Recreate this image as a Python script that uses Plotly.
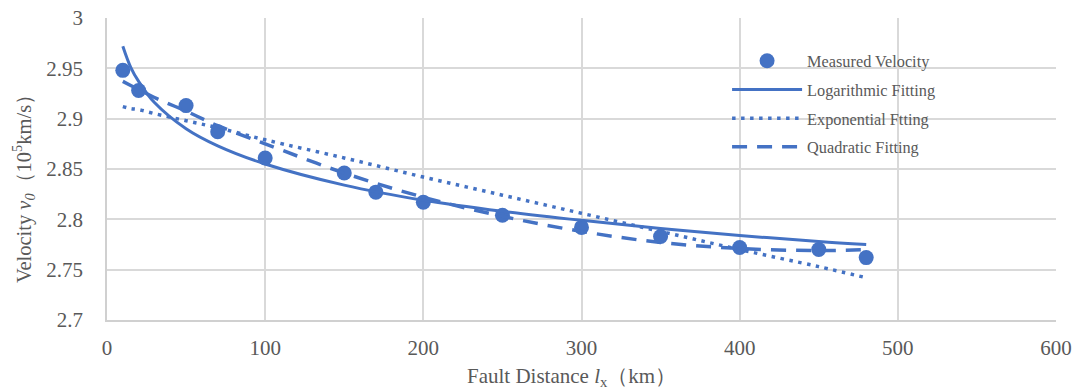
import plotly.graph_objects as go

BLUE = "#4472C4"
FONT = "Liberation Serif, Times New Roman, serif"
GRAY = "#595959"

# Measured data
dist = [10, 20, 50, 70, 100, 150, 170, 200, 250, 300, 350, 400, 450, 480]
vel = [2.948, 2.928, 2.913, 2.887, 2.861, 2.846, 2.827, 2.817, 2.804, 2.792, 2.783, 2.772, 2.770, 2.762]

# Fitted curves
fit_x = [10, 15, 20, 30, 50, 70, 100, 150, 200, 250, 300, 350, 400, 450, 480]
log_fit = [2.972, 2.951, 2.937, 2.916, 2.890, 2.873, 2.855, 2.834, 2.819, 2.808, 2.799, 2.791, 2.784, 2.778, 2.775]
exp_fit = [2.912, 2.910, 2.909, 2.905, 2.898, 2.891, 2.879, 2.861, 2.842, 2.824, 2.806, 2.788, 2.770, 2.753, 2.742]
quad_fit = [2.937, 2.933, 2.929, 2.921, 2.9075, 2.893, 2.875, 2.846, 2.822, 2.803, 2.788, 2.777, 2.771, 2.769, 2.770]

x_title = "Fault Distance <i>l</i><sub>x</sub>（km）"
y_title = "Velocity <i>v</i><sub><i>0</i></sub>（10<sup>5</sup>km/s）"

fig = go.Figure()
fig.add_trace(go.Scatter(x=dist, y=vel, mode="markers", name="Measured Velocity",
                         legendgroup="a", marker=dict(color=BLUE, size=15)))
fig.add_trace(go.Scatter(x=fit_x, y=log_fit, mode="lines", name="Logarithmic Fitting",
                         legendgroup="b", line=dict(color=BLUE, width=3, shape="spline")))
fig.add_trace(go.Scatter(x=fit_x, y=exp_fit, mode="lines", name="Exponential Ftting",
                         legendgroup="c",
                         line=dict(color=BLUE, width=3.5, dash="3.5px,5.5px", shape="spline")))
fig.add_trace(go.Scatter(x=fit_x, y=quad_fit, mode="lines", name="Quadratic Fitting",
                         legendgroup="d",
                         line=dict(color=BLUE, width=3.5, dash="15px,10px", shape="spline")))

fig.update_layout(
    width=1078, height=390,
    margin=dict(l=107, r=22, t=18, b=70, autoexpand=False),
    paper_bgcolor="white", plot_bgcolor="white",
    font=dict(family=FONT, color=GRAY),
    showlegend=True,
    legend=dict(x=0.6534, y=0.915, xanchor="left", yanchor="top",
                font=dict(family=FONT, size=16.3, color=GRAY),
                bgcolor="rgba(0,0,0,0)", itemwidth=70, tracegroupgap=4.5),
    xaxis=dict(range=[0, 600], dtick=100, showgrid=True, gridcolor="#d9d9d9", gridwidth=1.5,
               zeroline=False, showline=True, linecolor="#d0d0d0", linewidth=1.5,
               automargin=False, ticks="", ticklabelstandoff=8,
               tickfont=dict(family=FONT, size=21, color=GRAY)),
    yaxis=dict(range=[2.7, 3.0], dtick=0.05, showgrid=True, gridcolor="#d9d9d9", gridwidth=1.5,
               zeroline=False, showline=True, linecolor="#d0d0d0", linewidth=1.5,
               automargin=False, ticks="", ticklabelstandoff=18,
               tickfont=dict(family=FONT, size=21, color=GRAY)),
    annotations=[
        dict(text=x_title, xref="paper", yref="paper", x=0.489, y=-0.189,
             xanchor="center", yanchor="middle", showarrow=False,
             font=dict(family=FONT, size=21, color=GRAY)),
        dict(text=y_title, xref="paper", yref="paper", x=-0.0885, y=0.450,
             xanchor="center", yanchor="middle", showarrow=False, textangle=-90,
             font=dict(family=FONT, size=20.5, color=GRAY)),
    ],
)

fig.write_html("out.html", config={"displayModeBar": False},
               post_script="document.body.style.margin='0';document.body.style.overflow='hidden';")
